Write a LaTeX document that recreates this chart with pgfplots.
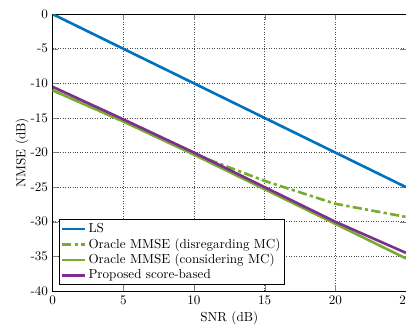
\documentclass[border=0pt]{standalone}
\usepackage{pgfplots}
\pgfplotsset{compat=1.18}
\definecolor{mblue}{rgb}{0,0.447,0.741}
\definecolor{mgreen}{rgb}{0.466,0.674,0.188}
\definecolor{mpurple}{rgb}{0.494,0.184,0.556}
\begin{document}
\begin{tikzpicture}
\begin{axis}[
  scale only axis,
  width=270pt, height=211.5pt,
  xmin=0, xmax=25, ymin=-40, ymax=0,
  xtick={0,5,10,15,20,25},
  ytick={-40,-35,-30,-25,-20,-15,-10,-5,0},
  yticklabels={-40,-35,-30,-25,-20,-15,-10,-5,0},
  xticklabels={0,5,10,15,20,25},
  grid=major,
  major grid style={line width=0.5pt, dash pattern=on 0.6pt off 1.3pt, black!70},
  tick align=inside,
  axis line style={line width=0.5pt},
  xlabel={SNR (dB)},
  ylabel={NMSE (dB)},
  every axis x label/.style={at={(axis description cs:0.5,-0.1)}, anchor=center},
  every axis y label/.style={at={(axis description cs:-0.086,0.5)}, anchor=center, rotate=90},
  legend style={at={(0.019,0.021)}, anchor=south west, draw=black, fill=white, font=\normalsize, inner sep=1pt, row sep=-1pt, line width=0.5pt},
  legend cell align=left,
  every axis plot/.append style={line width=2pt},
]
\addplot[mblue] coordinates {(0,0) (5,-5) (10,-10) (15,-15) (20,-20) (25,-25)};
\addlegendentry{LS}
\addplot[mgreen, dash pattern=on 7pt off 2.5pt on 2.5pt off 2.5pt] coordinates {(0,-11) (5,-15.5) (10,-20.2) (15,-24.1) (20,-27.4) (25,-29.3)};
\addlegendentry{Oracle MMSE (disregarding MC)}
\addplot[mgreen] coordinates {(0,-11) (5,-15.5) (10,-20.3) (15,-25.3) (20,-30.3) (25,-35.3)};
\addlegendentry{Oracle MMSE (considering MC)}
\addplot[mpurple] coordinates {(0,-10.5) (5,-15.2) (10,-20.0) (15,-25.0) (20,-30.0) (25,-34.5)};
\addlegendentry{Proposed score-based}
\end{axis}
\pgfresetboundingbox
\path (-40.2pt,-27.7pt) rectangle (270pt,222.3pt);
\end{tikzpicture}
\end{document}
